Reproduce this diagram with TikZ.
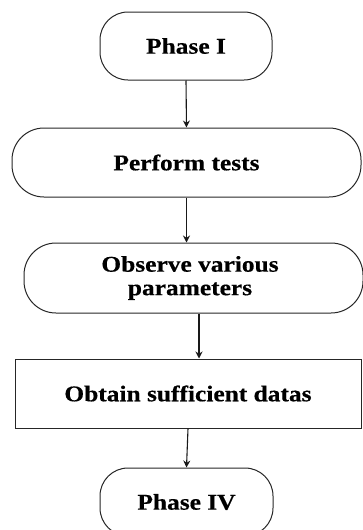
\documentclass[tikz,border=0pt]{standalone}
\usepackage{fontspec}
\setmainfont{Liberation Serif}[FakeStretch=1.13, BoldFeatures={FakeBold=0.4}]
\usetikzlibrary{arrows.meta}
\begin{document}
\begin{tikzpicture}[x=1pt,y=1pt,
  every node/.style={font=\bfseries\fontsize{22.5}{23.5}\selectfont, text=black, inner sep=0pt},
  term/.style={draw=black!85, line width=1pt, rounded corners=28pt, minimum width=172pt, minimum height=68pt},
  procbox/.style={draw=black!85, line width=1pt, minimum width=346pt, minimum height=69pt},
  conn/.style={draw=black!90, line width=1.1pt, -{Stealth[length=7pt,width=7pt]}}]
\useasboundingbox (0,0) rectangle (363,-530);
\node[term] (p1) at (186,-46) {Phase I};
\node[term, minimum width=349pt, minimum height=69pt, rounded corners=32pt] (pt) at (186.5,-162.5) {Perform tests};
\node[term, minimum width=339pt, minimum height=70pt, rounded corners=32pt, align=center] (ob) at (193.5,-278) {\hspace*{-7pt}Observe various\\\hspace*{-7pt}parameters};
\node[procbox] (ot) at (188,-393.5) {Obtain sufficient datas};
\node[term, minimum width=173pt] (p4) at (186.5,-502) {Phase IV};
\draw[conn] (p1.south) -- (pt.north);
\draw[conn] (pt.south) -- (pt.south |- ob.north);
\draw[conn] ([xshift=5.5pt]ob.south) coordinate (a) -- (a |- ot.north);
\draw[conn] (ot.south) -- (p4.north);
\end{tikzpicture}
\end{document}
